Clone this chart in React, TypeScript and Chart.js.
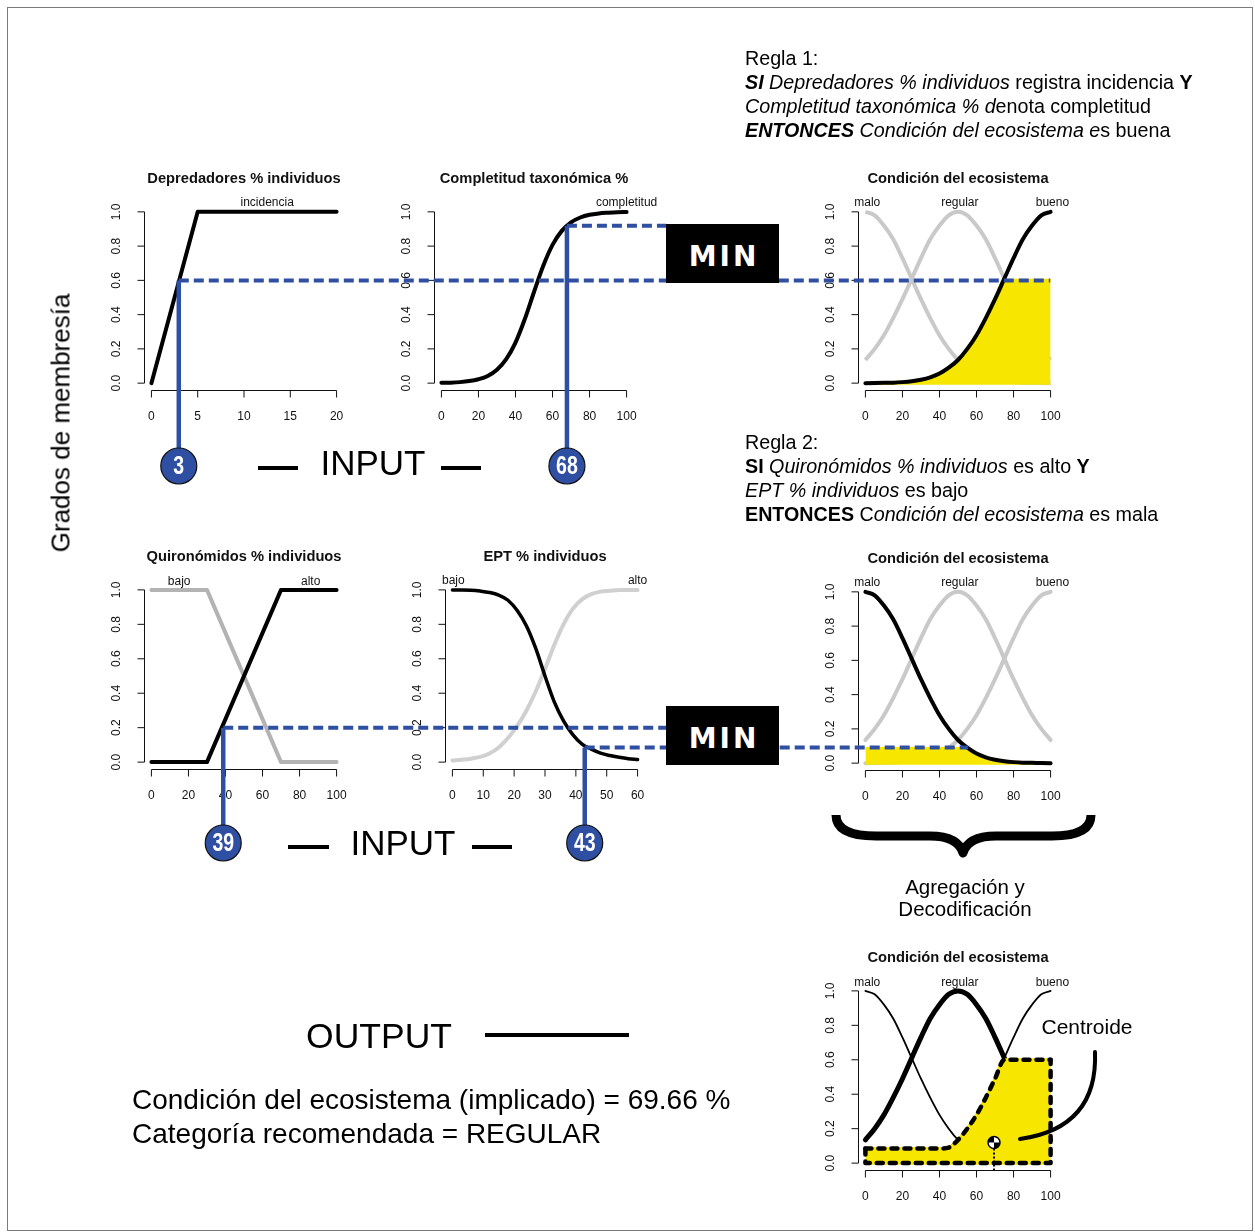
import { useEffect, useRef } from "react";
import { Chart, registerables } from "chart.js";

Chart.register(...registerables);

// ---------------- data ----------------
const yTicks = [0, 0.2, 0.4, 0.6, 0.8, 1.0];
const xTicksDep = [0, 5, 10, 15, 20];
const xTicksPct = [0, 20, 40, 60, 80, 100];
const xTicksEpt = [0, 10, 20, 30, 40, 50, 60];

const depX = [0, 5, 20];
const depIncidencia = [0, 1, 1];

const pctX = [0, 5, 10, 15, 20, 25, 30, 35, 40, 45, 50, 55, 60, 65, 70, 75, 80, 85, 90, 95, 100];
const compCompletitud = [0.002, 0.003, 0.006, 0.012, 0.023, 0.042, 0.078, 0.14, 0.237, 0.373, 0.532, 0.685, 0.807, 0.889, 0.939, 0.967, 0.983, 0.991, 0.995, 0.998, 0.999];

const condMalo = [1, 0.98, 0.92, 0.84, 0.73, 0.61, 0.49, 0.38, 0.28, 0.2, 0.135, 0.09, 0.056, 0.034, 0.02, 0.011, 0.006, 0.003, 0.002, 0.001, 0];
const condRegular = [0.135, 0.2, 0.28, 0.38, 0.49, 0.61, 0.73, 0.84, 0.92, 0.98, 1, 0.98, 0.92, 0.84, 0.73, 0.61, 0.49, 0.38, 0.28, 0.2, 0.135];
const condBueno = [0, 0.001, 0.002, 0.003, 0.006, 0.011, 0.02, 0.034, 0.056, 0.09, 0.135, 0.2, 0.28, 0.38, 0.49, 0.61, 0.73, 0.84, 0.92, 0.98, 1];

const quiX = [0, 30, 70, 100];
const quiBajo = [1, 1, 0, 0];
const quiAlto = [0, 0, 1, 1];

const eptX = [0, 3, 6, 9, 12, 15, 18, 21, 24, 27, 30, 33, 36, 39, 42, 45, 48, 51, 54, 57, 60];
const eptBajo = [1, 1, 0.998, 0.993, 0.985, 0.97, 0.94, 0.88, 0.79, 0.66, 0.5, 0.35, 0.24, 0.16, 0.105, 0.075, 0.052, 0.038, 0.028, 0.02, 0.015];
const eptAlto = [0.01, 0.014, 0.02, 0.03, 0.05, 0.085, 0.14, 0.21, 0.3, 0.41, 0.54, 0.68, 0.8, 0.89, 0.945, 0.975, 0.99, 0.995, 1, 1, 1];

// inputs (Depredadores, Completitud, Quironómidos, EPT)
const entradas = [3, 68, 39, 43];
const gradosRegla1 = [0.6, 0.92];
const gradosRegla2 = [0.2, 0.085];
const centroideX = 69.66;
const centroideY = 0.12;

const activacion1 = Math.min(...gradosRegla1);
const activacion2 = Math.min(...gradosRegla2);
const implicado1 = condBueno.map((v) => Math.min(v, activacion1));
const implicado2 = condMalo.map((v) => Math.min(v, activacion2));
const agregado = pctX.map((_, i) => Math.max(implicado1[i], implicado2[i]));

// ---------------- styles ----------------
const FONT = "'Liberation Sans', Arial, Helvetica, sans-serif";
const BLUE = "#2e4fa2";
const YELLOW = "#f6e600";
const GREY = "#c9c9c9";
const GREY_DARK = "#b3b3b3";
const PL = 60, PT = 40, PR = 30, PB = 45;

const pts = (xs: number[], ys: number[]) => xs.map((x, i) => ({ x, y: ys[i] }));

type Label = { text: string; x: number };
type PlotSpec = {
  key: string;
  left: number; top: number; width: number; height: number;
  xMin: number; xMax: number; xTicks: number[];
  title: string; labels: Label[]; labelDy: number;
  datasets: any[];
};

const line = (xs: number[], ys: number[], color: string, width: number, order: number, smooth = true, cap = "round") => ({
  data: pts(xs, ys),
  borderColor: color,
  borderWidth: width,
  pointRadius: 0,
  fill: false,
  order,
  borderCapStyle: cap,
  borderJoinStyle: "round",
  cubicInterpolationMode: smooth ? "monotone" : "default",
  tension: 0,
});

const area = (xs: number[], ys: number[], order: number) => ({
  data: pts(xs, ys),
  borderColor: YELLOW,
  borderWidth: 3,
  backgroundColor: YELLOW,
  pointRadius: 0,
  fill: { value: -0.01 },
  order,
  cubicInterpolationMode: "monotone",
});

const condLabels: Label[] = [
  { text: "malo", x: 1 },
  { text: "regular", x: 51 },
  { text: "bueno", x: 101 },
];

const PLOTS: PlotSpec[] = [
  {
    key: "dep", left: 143.6, top: 205.2, width: 199.8, height: 184.7,
    xMin: 0, xMax: 20, xTicks: xTicksDep, title: "Depredadores % individuos",
    labels: [{ text: "incidencia", x: 12.5 }], labelDy: 9,
    datasets: [line(depX, depIncidencia, "#000", 4, 1, false)],
  },
  {
    key: "comp", left: 433.6, top: 205.2, width: 199.8, height: 184.7,
    xMin: 0, xMax: 100, xTicks: xTicksPct, title: "Completitud taxonómica %",
    labels: [{ text: "completitud", x: 100 }], labelDy: 9,
    datasets: [line(pctX, compCompletitud, "#000", 4, 1)],
  },
  {
    key: "cond1", left: 857.6, top: 205.2, width: 199.8, height: 184.7,
    xMin: 0, xMax: 100, xTicks: xTicksPct, title: "Condición del ecosistema",
    labels: condLabels, labelDy: 9,
    datasets: [
      line(pctX, condBueno, "#000", 4, 1),
      area(pctX, implicado1, 2),
      line(pctX, condMalo, GREY, 4, 3, true, "butt"),
      line(pctX, condRegular, GREY, 4, 3, true, "butt"),
    ],
  },
  {
    key: "qui", left: 143.6, top: 583.1, width: 199.8, height: 185.8,
    xMin: 0, xMax: 100, xTicks: xTicksPct, title: "Quironómidos % individuos",
    labels: [{ text: "bajo", x: 15 }, { text: "alto", x: 86 }], labelDy: 8,
    datasets: [
      line(quiX, quiAlto, "#000", 4, 1, false),
      line(quiX, quiBajo, GREY_DARK, 4, 2, false),
    ],
  },
  {
    key: "ept", left: 444.6, top: 583.1, width: 199.8, height: 185.8,
    xMin: 0, xMax: 60, xTicks: xTicksEpt, title: "EPT % individuos",
    labels: [{ text: "bajo", x: 0.3 }, { text: "alto", x: 60 }], labelDy: 9,
    datasets: [
      line(eptX, eptBajo, "#000", 3.5, 1),
      line(eptX, eptAlto, "#d0d0d0", 4, 2),
    ],
  },
  {
    key: "cond2", left: 857.6, top: 585.2, width: 199.8, height: 184.7,
    xMin: 0, xMax: 100, xTicks: xTicksPct, title: "Condición del ecosistema",
    labels: condLabels, labelDy: 9,
    datasets: [
      line(pctX, condMalo, "#000", 4, 1),
      area(pctX, implicado2, 2),
      line(pctX, condRegular, GREY, 4, 3),
      line(pctX, condBueno, GREY, 4, 3),
    ],
  },
  {
    key: "cond3", left: 857.6, top: 984.1, width: 199.8, height: 185.8,
    xMin: 0, xMax: 100, xTicks: xTicksPct, title: "Condición del ecosistema",
    labels: condLabels, labelDy: 8,
    datasets: [
      { ...line(pctX, agregado, "#000", 4.5, 1), borderDash: [6, 7], borderCapStyle: "round" },
      {
        ...line([0, 0, 100, 100], [agregado[0], 0, 0, agregado[agregado.length - 1]], "#000", 4.5, 1, false),
        borderDash: [6, 7], borderCapStyle: "round",
      },
      area(pctX, agregado, 2),
      line(pctX, condMalo, "#000", 1.8, 3),
      line(pctX, condRegular, "#000", 5, 3),
      line(pctX, condBueno, "#000", 1.8, 3),
    ],
  },
];

function axesPlugin(p: PlotSpec) {
  return {
    id: "rAxes_" + p.key,
    afterDraw(chart: any) {
      const { ctx, chartArea: a } = chart;
      const sx = chart.scales.x, sy = chart.scales.y;
      ctx.save();
      ctx.strokeStyle = "#111";
      ctx.fillStyle = "#111";
      ctx.lineWidth = 1;
      ctx.setLineDash([]);
      const ax = Math.round(a.bottom) + 0.5;
      const xs = p.xTicks.map((v) => sx.getPixelForValue(v));
      ctx.beginPath();
      ctx.moveTo(xs[0], ax);
      ctx.lineTo(xs[xs.length - 1], ax);
      xs.forEach((x) => { ctx.moveTo(x, ax); ctx.lineTo(x, ax + 7); });
      const lx = Math.round(a.left) + 0.5;
      const ys = yTicks.map((v) => sy.getPixelForValue(v));
      ctx.moveTo(lx, ys[0]);
      ctx.lineTo(lx, ys[ys.length - 1]);
      ys.forEach((y) => { ctx.moveTo(lx, y); ctx.lineTo(lx - 7, y); });
      ctx.stroke();
      ctx.font = `12px ${FONT}`;
      ctx.textAlign = "center";
      ctx.textBaseline = "middle";
      p.xTicks.forEach((v, i) => ctx.fillText(String(v), xs[i], ax + 26));
      yTicks.forEach((v, i) => {
        ctx.save();
        ctx.translate(lx - 28, ys[i]);
        ctx.rotate(-Math.PI / 2);
        ctx.fillText(v.toFixed(1), 0, 0);
        ctx.restore();
      });
      ctx.font = `bold 14.7px ${FONT}`;
      ctx.fillText(p.title, (a.left + a.right) / 2, a.top - 26.5);
      ctx.font = `12px ${FONT}`;
      const y1 = sy.getPixelForValue(1);
      p.labels.forEach((l) => ctx.fillText(l.text, sx.getPixelForValue(l.x), y1 - p.labelDy));
      ctx.restore();
    },
  };
}

function buildConfig(p: PlotSpec): any {
  const ext = (p.xMax - p.xMin) * 0.04;
  return {
    type: "line",
    data: { datasets: p.datasets },
    options: {
      responsive: false,
      animation: false,
      devicePixelRatio: 1,
      layout: { padding: { left: PL, top: PT, right: PR, bottom: PB } },
      plugins: { legend: { display: false }, tooltip: { enabled: false }, title: { display: false } },
      events: [],
      scales: {
        x: { type: "linear", min: p.xMin - ext, max: p.xMax + ext, display: false },
        y: { type: "linear", min: -0.04, max: 1.04, display: false },
      },
    },
    plugins: [axesPlugin(p)],
  };
}

function interpCross(xs: number[], ys: number[], level: number): number {
  for (let i = 0; i < ys.length - 1; i++) {
    const a = ys[i], b = ys[i + 1];
    if ((a - level) * (b - level) <= 0 && a !== b) {
      return xs[i] + ((level - a) / (b - a)) * (xs[i + 1] - xs[i]);
    }
  }
  return xs[xs.length - 1];
}

function drawOverlay(cv: HTMLCanvasElement, charts: Chart[]) {
  const ctx = cv.getContext("2d")!;
  ctx.clearRect(0, 0, cv.width, cv.height);
  const P = (ci: number, x: number, y: number): [number, number] => {
    const c: any = charts[ci];
    const s = PLOTS[ci];
    return [s.left - PL + c.scales.x.getPixelForValue(x), s.top - PT + c.scales.y.getPixelForValue(y)];
  };

  // frame
  ctx.strokeStyle = "#7a7a7a";
  ctx.lineWidth = 1;
  ctx.strokeRect(7.5, 7.5, 1245, 1223);

  const R = 18;
  const dashed = (x1: number, x2: number, y: number) => {
    ctx.save();
    ctx.strokeStyle = BLUE;
    ctx.lineWidth = 4;
    ctx.setLineDash([10, 5]);
    ctx.beginPath();
    ctx.moveTo(x1, y);
    ctx.lineTo(x2, y);
    ctx.stroke();
    ctx.restore();
  };
  const stem = (x: number, y: number, cy: number, label: string) => {
    ctx.save();
    ctx.strokeStyle = BLUE;
    ctx.lineWidth = 4.5;
    ctx.beginPath();
    ctx.moveTo(x, y);
    ctx.lineTo(x, cy - R + 2);
    ctx.stroke();
    ctx.beginPath();
    ctx.arc(x, cy, R, 0, Math.PI * 2);
    ctx.fillStyle = BLUE;
    ctx.fill();
    ctx.strokeStyle = "#111";
    ctx.lineWidth = 1.2;
    ctx.stroke();
    ctx.fillStyle = "#fff";
    ctx.font = `bold 25px ${FONT}`;
    ctx.textAlign = "center";
    ctx.textBaseline = "middle";
    ctx.translate(x, cy + 1);
    ctx.scale(0.78, 1);
    ctx.fillText(label, 0, 0);
    ctx.restore();
  };

  const minLeft = 666;
  // rule 1
  const [ax, ay] = P(0, entradas[0], gradosRegla1[0]);
  const [bx, by] = P(1, entradas[1], gradosRegla1[1]);
  const [endX1] = P(2, 100, activacion1);
  dashed(ax, endX1, ay);
  dashed(bx, minLeft, by);
  stem(ax, ay, 466, String(entradas[0]));
  stem(bx, by, 466, String(entradas[1]));

  // rule 2
  const [cx, cy] = P(3, entradas[2], gradosRegla2[0]);
  const [dx, dy] = P(4, entradas[3], gradosRegla2[1]);
  const [endX2] = P(5, interpCross(pctX, condMalo, activacion2), activacion2);
  dashed(cx, minLeft, cy);
  dashed(dx, endX2, dy);
  stem(cx, cy, 843, String(entradas[2]));
  stem(dx, dy, 843, String(entradas[3]));

  // centroid
  const [gx, gy] = P(6, centroideX, centroideY);
  const [, gBottom] = P(6, centroideX, -0.04);
  ctx.save();
  ctx.strokeStyle = "#000";
  ctx.lineWidth = 2;
  ctx.setLineDash([2, 2]);
  ctx.beginPath();
  ctx.moveTo(gx, gy + 6);
  ctx.lineTo(gx, gBottom);
  ctx.stroke();
  ctx.setLineDash([]);
  ctx.beginPath();
  ctx.arc(gx, gy, 6, 0, Math.PI * 2);
  ctx.fillStyle = "#fff";
  ctx.fill();
  ctx.fillStyle = "#000";
  ctx.beginPath();
  ctx.moveTo(gx, gy);
  ctx.arc(gx, gy, 6, Math.PI, Math.PI * 1.5);
  ctx.closePath();
  ctx.fill();
  ctx.beginPath();
  ctx.moveTo(gx, gy);
  ctx.arc(gx, gy, 6, 0, Math.PI * 0.5);
  ctx.closePath();
  ctx.fill();
  ctx.beginPath();
  ctx.arc(gx, gy, 6, 0, Math.PI * 2);
  ctx.lineWidth = 1.5;
  ctx.stroke();
  // arrow arc to "Centroide"
  ctx.lineWidth = 4;
  ctx.lineCap = "round";
  ctx.beginPath();
  ctx.moveTo(1020, 1139);
  ctx.quadraticCurveTo(1098, 1128, 1095, 1052);
  ctx.stroke();
  ctx.restore();

  // INPUT / OUTPUT bars
  ctx.save();
  ctx.strokeStyle = "#000";
  ctx.lineWidth = 4;
  const bar = (x1: number, x2: number, y: number) => {
    ctx.beginPath();
    ctx.moveTo(x1, y);
    ctx.lineTo(x2, y);
    ctx.stroke();
  };
  bar(258, 298, 468);
  bar(441, 481, 468);
  bar(288, 329, 847);
  bar(472, 512, 847);
  bar(485, 629, 1035);

  // brace
  ctx.lineWidth = 9;
  ctx.lineJoin = "round";
  ctx.lineCap = "butt";
  ctx.beginPath();
  ctx.moveTo(836, 815);
  ctx.quadraticCurveTo(836, 836, 876, 836);
  ctx.lineTo(930, 836);
  ctx.quadraticCurveTo(958, 836, 963, 853);
  ctx.quadraticCurveTo(968, 836, 996, 836);
  ctx.lineTo(1052, 836);
  ctx.quadraticCurveTo(1091, 836, 1091, 815);
  ctx.stroke();
  ctx.restore();
}

const abs = (l: number, t: number): React.CSSProperties => ({ position: "absolute", left: l, top: t, zIndex: 3, fontFamily: FONT, color: "#000", whiteSpace: "nowrap" });

export default function App() {
  const refs = useRef<(HTMLCanvasElement | null)[]>([]);
  const overlayRef = useRef<HTMLCanvasElement>(null);

  useEffect(() => {
    document.body.style.overflow = "hidden";
    const charts = PLOTS.map((p, i) => new Chart(refs.current[i]!, buildConfig(p)));
    if (overlayRef.current) drawOverlay(overlayRef.current, charts);
    return () => charts.forEach((c) => c.destroy());
  }, []);

  const ruleStyle: React.CSSProperties = { fontSize: 19.7, lineHeight: "24px" };

  return (
    <div>
      {PLOTS.map((p, i) => (
        <canvas
          key={p.key}
          ref={(el) => { refs.current[i] = el; }}
          width={Math.round(p.width + PL + PR)}
          height={Math.round(p.height + PT + PB)}
          style={{
            position: "absolute",
            left: p.left - PL,
            top: p.top - PT,
            width: Math.round(p.width + PL + PR),
            height: Math.round(p.height + PT + PB),
            zIndex: 1,
          }}
        />
      ))}
      <canvas ref={overlayRef} width={1254} height={1231} style={{ position: "absolute", left: 0, top: 0, zIndex: 2, width: 1254, height: 1231 }} />

      <div style={{ ...abs(745, 46), ...ruleStyle }}>
        <div>Regla 1:</div>
        <div><b><i>SI</i></b> <i>Depredadores % individuos</i> registra incidencia <b>Y</b></div>
        <div><i>Completitud taxonómica % d</i>enota completitud</div>
        <div><b><i>ENTONCES</i></b> <i>Condición del ecosistema e</i>s buena</div>
      </div>
      <div style={{ ...abs(745, 430), ...ruleStyle }}>
        <div>Regla 2:</div>
        <div><b>SI</b> <i>Quironómidos % individuos</i> es alto <b>Y</b></div>
        <div><i>EPT % individuos</i> es bajo</div>
        <div><b>ENTONCES</b> C<i>ondición del ecosistema</i> es mala</div>
      </div>

      <div style={{ ...abs(61, 423), fontSize: 26, transform: "translate(-50%, -50%) rotate(-90deg)" }}>Grados de membresía</div>

      <div style={{ ...abs(373, 463), fontSize: 35, transform: "translate(-50%, -50%)" }}>INPUT</div>
      <div style={{ ...abs(403, 843), fontSize: 35, transform: "translate(-50%, -50%)" }}>INPUT</div>
      <div style={{ ...abs(379, 1036), fontSize: 35.5, transform: "translate(-50%, -50%)" }}>OUTPUT</div>

      <div style={{ ...abs(132, 1083), fontSize: 28, lineHeight: "34px" }}>
        <div>Condición del ecosistema (implicado) = {centroideX.toFixed(2)} %</div>
        <div>Categoría recomendada = REGULAR</div>
      </div>

      <div style={{ ...abs(965, 898), fontSize: 20.5, lineHeight: "22px", textAlign: "center", transform: "translate(-50%, -50%)" }}>
        <div>Agregación y</div>
        <div>Decodificación</div>
      </div>

      <div style={{ ...abs(1087, 1027), fontSize: 21, transform: "translate(-50%, -50%)" }}>Centroide</div>

      {[224, 706].map((t) => (
        <div
          key={t}
          style={{
            position: "absolute", left: 666, top: t, width: 113, height: 59, background: "#000", zIndex: 3,
            color: "#fff", display: "flex", alignItems: "center", justifyContent: "center",
            fontFamily: "'DejaVu Sans', sans-serif", fontWeight: "bold", fontSize: 28, letterSpacing: 3,
            paddingLeft: 3, paddingTop: 6, boxSizing: "border-box",
          }}
        >
          MIN
        </div>
      ))}
    </div>
  );
}
